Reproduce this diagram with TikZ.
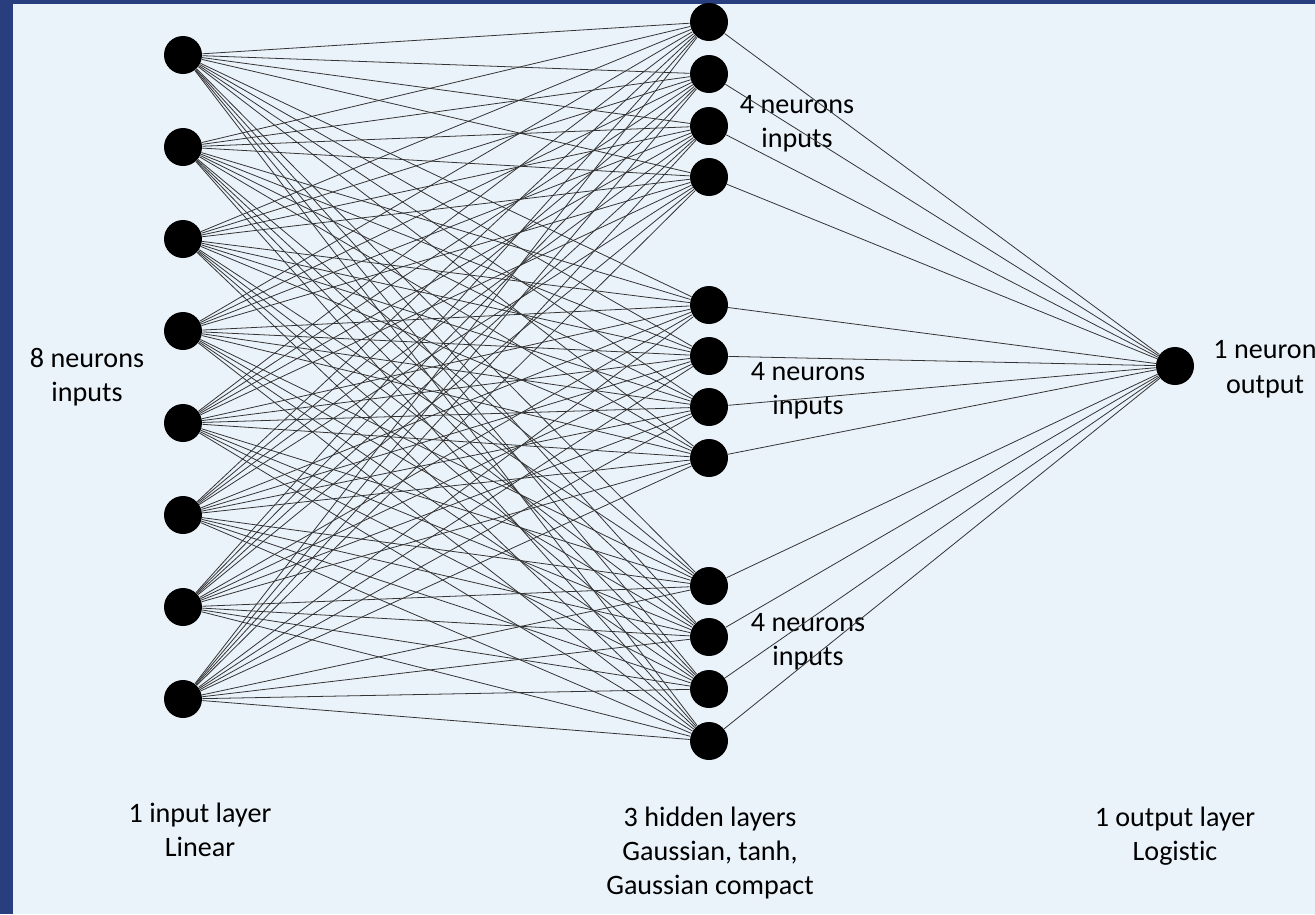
\documentclass[tikz,border=0pt]{standalone}
\usepackage{fontspec}
\setmainfont{Carlito}[Ligatures=NoCommon]
\definecolor{rahmen}{HTML}{283E7E}
\definecolor{grund}{HTML}{EAF2FA}
\tikzset{
    neuron/.style={circle, fill=black, inner sep=0pt, minimum size=0.76cm},
    kante/.style={black!80, line width=0.45pt},
    beschriftung/.style={align=center, inner sep=0pt, font=\fontsize{16}{19.6}\selectfont}
}

\begin{document}
\begin{tikzpicture}[x=0.02cm, y=-0.02cm]

% Hintergrund und Rahmen
\useasboundingbox (0,0) rectangle (1315,914);
\fill[rahmen] (0,0) rectangle (1315,914);
\fill[grund] (13,4) rectangle (1315,914);

% Eingabeschicht (8 Neuronen)
\foreach \i in {1,...,8}
    \node[neuron] (e\i) at (183,{55+92*(\i-1)}) {};

% Verdeckte Schichten (3 x 4 Neuronen)
\foreach \j/\y in {1/22,2/74,3/126,4/177,5/305,6/356,7/407,8/458,9/586,10/637,11/689,12/741}
    \node[neuron] (h\j) at (709,\y) {};

% Ausgabeneuron
\node[neuron] (a) at (1175,366) {};

% Beschriftungen
\node[beschriftung] (le) at (87,377) {8 neurons\\inputs};
\node[beschriftung] (lh1) at (797,124) {4 neurons\\inputs};
\node[beschriftung] (lh2) at (808,391) {4 neurons\\inputs};
\node[beschriftung] (lh3) at (808,642) {4 neurons\\inputs};
\node[beschriftung] (la) at (1265,369) {1 neuron\\output};
\node[beschriftung] (se) at (200,830) {1 input layer\\Linear};
\node[beschriftung] (sh) at (710,853) {3 hidden layers\\Gaussian, tanh,\\Gaussian compact};
\node[beschriftung] (sa) at (1175,836) {1 output layer\\Logistic};

% Kanten: Eingabe -> verdeckt
\foreach \i in {1,...,8}
    \foreach \j in {1,...,12}
        \draw[kante] (e\i) -- (h\j);

% Kanten: verdeckt -> Ausgabe
\foreach \j in {1,...,12}
    \draw[kante] (h\j) -- (a);

\end{tikzpicture}
\end{document}
